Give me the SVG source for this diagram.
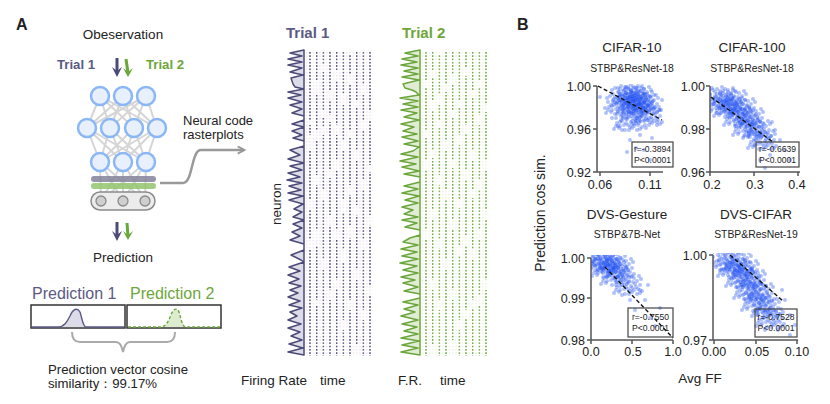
<svg xmlns="http://www.w3.org/2000/svg" width="830" height="404" viewBox="0 0 830 404">
<style>
text{font-family:"Liberation Sans",Arial,sans-serif;fill:#222}
.b{font-weight:bold}
.pu{fill:#5b5a84}
.gr{fill:#6ea63c}
.nn{fill:#e8f0fd;stroke:#8ab7f5;stroke-width:2.5}
.cn{stroke:#d5d5d5;stroke-width:2;fill:none}
.ax{stroke:#555;stroke-width:1.5;fill:none}
.reg{stroke:#111;stroke-width:1.4;stroke-dasharray:4 2.5;fill:none}
.sb{fill:none;stroke:#444;stroke-width:1.2}
.st{font-size:8.6px}
.tk{font-size:12.5px}
.ti{font-size:13.5px}
.sub{font-size:10.4px}
.pt{fill:#2552f2;fill-opacity:0.36}
</style>
<defs>
<marker id="ga" viewBox="0 0 10 10" refX="8" refY="5" markerWidth="9" markerHeight="9" markerUnits="userSpaceOnUse" orient="auto"><path d="M1,1 L8.5,5 L1,9" fill="none" stroke="#999" stroke-width="2.2"/></marker>
<pattern id="p1" patternUnits="userSpaceOnUse" x="309.25" y="52" width="6.667" height="3.3"><rect width="1.6" height="1.6" fill="#4b4a78"/></pattern>
<pattern id="p1f" patternUnits="userSpaceOnUse" x="309.25" y="52" width="3.333" height="3.3"><rect width="1.5" height="1.5" fill="#f1e7f2"/></pattern>
<pattern id="p2" patternUnits="userSpaceOnUse" x="425.25" y="52" width="6.667" height="3.3"><rect width="1.6" height="1.6" fill="#6aa63a"/></pattern>
<pattern id="p2f" patternUnits="userSpaceOnUse" x="425.25" y="52" width="3.333" height="3.3"><rect width="1.5" height="1.5" fill="#edf5e4"/></pattern>
<clipPath id="cp1"><rect x="597" y="84" width="72" height="88"/></clipPath>
<clipPath id="cp2"><rect x="710" y="84" width="92" height="88"/></clipPath>
<clipPath id="cp3"><rect x="591" y="255" width="85" height="85"/></clipPath>
<clipPath id="cp4"><rect x="713" y="253" width="88" height="87"/></clipPath>
<g id="cl" fill="#2552f2" fill-opacity="0.36">
<circle cx="-12" cy="-3" r="2"/><circle cx="-8" cy="5" r="2"/><circle cx="-5" cy="-8" r="2"/><circle cx="-2" cy="2" r="2"/><circle cx="1" cy="-4" r="2"/><circle cx="4" cy="7" r="2"/><circle cx="7" cy="-1" r="2"/><circle cx="10" cy="4" r="2"/><circle cx="13" cy="-6" r="2"/><circle cx="-14" cy="8" r="2"/>
<circle cx="-10" cy="-9" r="2"/><circle cx="-6" cy="0" r="2"/><circle cx="-3" cy="9" r="2"/><circle cx="0" cy="-10" r="2"/><circle cx="3" cy="1" r="2"/><circle cx="6" cy="-7" r="2"/><circle cx="9" cy="9" r="2"/><circle cx="12" cy="0" r="2"/><circle cx="14" cy="6" r="2"/><circle cx="-11" cy="2" r="2"/>
<circle cx="-7" cy="-5" r="2"/><circle cx="-4" cy="4" r="2"/><circle cx="-1" cy="-2" r="2"/><circle cx="2" cy="6" r="2"/><circle cx="5" cy="-3" r="2"/><circle cx="8" cy="2" r="2"/><circle cx="11" cy="-9" r="2"/><circle cx="-13" cy="-7" r="2"/><circle cx="-9" cy="7" r="2"/><circle cx="0" cy="4" r="2"/>
<circle cx="6" cy="5" r="2"/><circle cx="-5" cy="-3" r="2"/><circle cx="3" cy="-8" r="2"/><circle cx="9" cy="-4" r="2"/><circle cx="-2" cy="-6" r="2"/><circle cx="-8" cy="1" r="2"/><circle cx="4" cy="3" r="2"/><circle cx="12" cy="8" r="2"/><circle cx="-12" cy="5" r="2"/><circle cx="1" cy="9" r="2"/>
</g>
</defs>
<rect width="830" height="404" fill="#fff"/>

<!-- Panel A -->
<text x="16" y="30" class="b" font-size="16">A</text>
<g id="observation"><text x="123" y="39" font-size="13.5" text-anchor="middle">Obeservation</text></g>
<g id="trial-labels">
<text x="57" y="69" class="b pu" font-size="13.2">Trial 1</text>
<text x="146" y="69" class="b gr" font-size="13.2">Trial 2</text>
<path d="M117,58 L117,72" stroke="#4b4a78" stroke-width="3"/><polygon points="112,67 117,77 122,67 117,71" fill="#4b4a78"/>
<path d="M126,59 L128,73" stroke="#6aa63a" stroke-width="3"/><polygon points="123,68 128,77 133,68 128,72" fill="#6aa63a"/>
</g>

<g id="network">
<g class="cn">
<path d="M100,96 L87,128 M100,96 L110,128 M100,96 L134,128 M100,96 L157,128 M123,96 L87,128 M123,96 L110,128 M123,96 L134,128 M123,96 L157,128 M146,96 L87,128 M146,96 L110,128 M146,96 L134,128 M146,96 L157,128"/>
<path d="M87,128 L100,162 M87,128 L123,162 M87,128 L146,162 M110,128 L100,162 M110,128 L123,162 M110,128 L146,162 M134,128 L100,162 M134,128 L123,162 M134,128 L146,162 M157,128 L100,162 M157,128 L123,162 M157,128 L146,162"/>
<path d="M100,162 L101,201 M100,162 L123,201 M100,162 L145,201 M123,162 L101,201 M123,162 L123,201 M123,162 L145,201 M146,162 L101,201 M146,162 L123,201 M146,162 L145,201"/>
</g>
<circle class="nn" cx="100" cy="96" r="9"/><circle class="nn" cx="123" cy="96" r="9"/><circle class="nn" cx="146" cy="96" r="9"/>
<circle class="nn" cx="87" cy="128" r="9"/><circle class="nn" cx="110" cy="128" r="9"/><circle class="nn" cx="134" cy="128" r="9"/><circle class="nn" cx="157" cy="128" r="9"/>
<circle class="nn" cx="100" cy="162" r="9"/><circle class="nn" cx="123" cy="162" r="9"/><circle class="nn" cx="146" cy="162" r="9"/>
<rect x="91" y="176" width="65" height="6" rx="3" fill="#85839b" fill-opacity="0.85"/>
<rect x="91" y="183" width="65" height="6" rx="3" fill="#93c46d" fill-opacity="0.85"/>
<rect x="91" y="192" width="64" height="18" rx="9" fill="#ececec" stroke="#8a8a8a" stroke-width="1.5"/>
<circle cx="101" cy="201" r="5" fill="#cfcfcf" stroke="#8a8a8a" stroke-width="1.3"/>
<circle cx="123" cy="201" r="5" fill="#cfcfcf" stroke="#8a8a8a" stroke-width="1.3"/>
<circle cx="145" cy="201" r="5" fill="#cfcfcf" stroke="#8a8a8a" stroke-width="1.3"/>
</g>

<g id="neural-code-label">
<text x="183" y="125" font-size="13">Neural code</text>
<text x="183" y="139" font-size="13">rasterplots</text>
</g>

<g id="connectors">
<path d="M160,183 H183 C193,183 191,150 201,150 H244" fill="none" stroke="#999" stroke-width="2.5" marker-end="url(#ga)"/>
<path d="M117,222 L117,236" stroke="#4b4a78" stroke-width="3"/><polygon points="112,231 117,241 122,231 117,235" fill="#4b4a78"/>
<path d="M127,223 L128,236" stroke="#6aa63a" stroke-width="3"/><polygon points="123,231 128,240 133,231 128,235" fill="#6aa63a"/>
<path d="M72,332 Q72,342 80,342 H116 Q121,342 123,352 Q125,342 130,342 H167 Q175,342 175,332" fill="none" stroke="#aaa" stroke-width="2"/>
</g>

<g id="prediction"><text x="123" y="262" font-size="13.5" text-anchor="middle">Prediction</text></g>

<g id="prediction-1">
<text x="32" y="299" class="pu" font-size="16">Prediction 1</text>
<rect x="31" y="305" width="94" height="23" fill="#fff" stroke="#333" stroke-width="1.5"/>
<path d="M58,327 C64,327 67,322 70,316 C73,309 77,307 80,312 C82,318 83,327 86,327 Z" fill="#dcdce8"/>
<path d="M32,327 L58,327 C64,327 67,322 70,316 C73,309 77,307 80,312 C82,318 83,327 86,327 L124,327" fill="none" stroke="#5b5a84" stroke-width="1.4"/>
</g>
<g id="prediction-2">
<text x="130" y="299" class="gr" font-size="16">Prediction 2</text>
<rect x="127" y="305" width="94" height="23" fill="#fff" stroke="#333" stroke-width="1.5"/>
<path d="M160,327 C166,327 168,322 171,315 C173,309 177,307 179,312 C181,318 182,327 186,327 Z" fill="#dcecce"/>
<path d="M128,327 L160,327 C166,327 168,322 171,315 C173,309 177,307 179,312 C181,318 182,327 186,327 L220,327" fill="none" stroke="#6aa63a" stroke-width="1.4" stroke-dasharray="3 2"/>
</g>
<g id="similarity">
<text x="48" y="374" font-size="13.2">Prediction vector cosine</text>
<text x="48" y="388" font-size="13.2">similarity：99.17%</text>
</g>

<!-- Rasters -->
<g id="raster-trial-1">
<text x="286" y="38" class="b pu" font-size="15">Trial 1</text>
<rect x="306" y="52" width="67" height="304" fill="url(#p1f)"/>
<polygon points="304,50 290,53 302,56 288,59 302,62 288,65 302,68 290,72 303,75 291,78 293,84 295,87 304,89 288,92 301,95 288,98 302,102 290,105 302,109 292,113 304,116 304,120 292,124 304,127 292,131 302,135 293,138 304,141 304,146 290,150 300,155 288,159 304,163 290,166 302,170 288,173 300,177 287,180 302,183 289,186 301,190 288,193 303,196 289,200 303,204 294,209 302,212 293,217 304,220 293,224 302,228 292,232 300,236 290,240 304,244 304,250 291,255 301,260 304,262 289,267 300,271 288,275 299,279 289,283 301,286 290,290 298,293 288,297 300,301 289,305 302,308 290,312 297,316 288,320 301,324 288,328 300,332 291,336 302,340 289,344 303,348 288,352 304,355" fill="#dcdce8" stroke="#4b4a78" stroke-width="1.5" stroke-linejoin="round"/>
<g fill="url(#p1)">
<path d="M309,52h2V120h-2z M309,125h2V135h-2z M309,150h2V200h-2z M309,210h2V240h-2z M309,250h2V356h-2z"/>
<path d="M315.7,52h2V80h-2z M315.7,95h2V130h-2z M315.7,140h2V175h-2z M315.7,185h2V230h-2z M315.7,245h2V300h-2z M315.7,305h2V356h-2z"/>
<path d="M322.3,52h2V65h-2z M322.3,72h2V110h-2z M322.3,118h2V128h-2z M322.3,135h2V190h-2z M322.3,200h2V260h-2z M322.3,270h2V356h-2z"/>
<path d="M329,52h2V90h-2z M329,100h2V115h-2z M329,122h2V170h-2z M329,178h2V215h-2z M329,225h2V290h-2z M329,300h2V356h-2z"/>
<path d="M335.7,52h2V70h-2z M335.7,80h2V125h-2z M335.7,135h2V160h-2z M335.7,170h2V230h-2z M335.7,240h2V280h-2z M335.7,288h2V356h-2z"/>
<path d="M342.3,52h2V95h-2z M342.3,105h2V140h-2z M342.3,150h2V200h-2z M342.3,212h2V250h-2z M342.3,262h2V320h-2z M342.3,330h2V356h-2z"/>
<path d="M349,55h2V75h-2z M349,85h2V130h-2z M349,138h2V185h-2z M349,195h2V225h-2z M349,238h2V300h-2z M349,310h2V356h-2z"/>
<path d="M355.7,52h2V100h-2z M355.7,108h2V150h-2z M355.7,160h2V205h-2z M355.7,215h2V270h-2z M355.7,280h2V345h-2z"/>
<path d="M362.3,52h2V85h-2z M362.3,95h2V120h-2z M362.3,130h2V180h-2z M362.3,190h2V240h-2z M362.3,250h2V310h-2z M362.3,320h2V356h-2z"/>
<path d="M369,52h2V110h-2z M369,120h2V165h-2z M369,172h2V215h-2z M369,225h2V285h-2z M369,295h2V356h-2z"/>
</g>
<text transform="translate(281,204) rotate(-90)" font-size="13.5" text-anchor="middle">neuron</text>
<text x="241" y="385" font-size="13.5">Firing Rate</text>
<text x="320" y="385" font-size="13.5">time</text>
</g>

<g id="raster-trial-2">
<text x="402" y="38" class="b gr" font-size="15">Trial 2</text>
<rect x="422" y="52" width="67" height="304" fill="url(#p2f)"/>
<polygon points="420,50 405,53 418,56 402,59 417,62 401,65 418,68 404,71 418,74 402,77 419,80 403,84 405,88 412,90 416,92 419,95 400,98 418,101 403,104 418,107 401,110 417,113 404,117 419,120 401,124 414,127 403,131 417,134 402,137 418,141 404,144 419,147 413,151 401,154 418,157 400,161 416,164 402,167 419,171 404,174 420,177 420,182 404,186 418,189 402,193 419,196 405,200 418,203 402,207 413,210 404,214 418,217 402,220 417,223 405,227 420,230 420,235 410,238 403,242 418,245 401,249 417,252 402,256 418,259 400,263 417,266 403,270 418,273 401,277 415,280 403,283 418,287 404,291 420,294 420,298 403,302 418,305 404,309 415,312 401,316 418,320 402,324 417,327 404,331 418,334 401,338 419,341 402,345 418,348 401,352 420,355" fill="#e1ecd5" stroke="#6aa63a" stroke-width="1.5" stroke-linejoin="round"/>
<g fill="url(#p2)">
<path d="M425,52h2V80h-2z M425,88h2V130h-2z M425,138h2V160h-2z M425,170h2V230h-2z M425,240h2V356h-2z"/>
<path d="M431.7,52h2V70h-2z M431.7,78h2V100h-2z M431.7,110h2V150h-2z M431.7,158h2V210h-2z M431.7,220h2V280h-2z M431.7,290h2V345h-2z"/>
<path d="M438.3,55h2V95h-2z M438.3,105h2V120h-2z M438.3,128h2V175h-2z M438.3,185h2V240h-2z M438.3,248h2V300h-2z M438.3,310h2V356h-2z"/>
<path d="M445,52h2V85h-2z M445,92h2V140h-2z M445,150h2V190h-2z M445,200h2V260h-2z M445,270h2V356h-2z"/>
<path d="M451.7,52h2V75h-2z M451.7,85h2V110h-2z M451.7,118h2V160h-2z M451.7,168h2V220h-2z M451.7,230h2V290h-2z M451.7,300h2V340h-2z"/>
<path d="M458.3,52h2V100h-2z M458.3,108h2V135h-2z M458.3,145h2V200h-2z M458.3,208h2V245h-2z M458.3,255h2V320h-2z M458.3,330h2V356h-2z"/>
<path d="M465,52h2V68h-2z M465,76h2V125h-2z M465,133h2V170h-2z M465,180h2V235h-2z M465,245h2V310h-2z M465,318h2V356h-2z"/>
<path d="M471.7,52h2V90h-2z M471.7,98h2V150h-2z M471.7,160h2V190h-2z M471.7,198h2V250h-2z M471.7,260h2V300h-2z M471.7,308h2V356h-2z"/>
<path d="M478.3,52h2V80h-2z M478.3,88h2V115h-2z M478.3,125h2V180h-2z M478.3,190h2V230h-2z M478.3,240h2V295h-2z M478.3,305h2V356h-2z"/>
<path d="M485,52h2V105h-2z M485,112h2V160h-2z M485,170h2V210h-2z M485,220h2V280h-2z M485,290h2V356h-2z"/>
</g>
<text x="398" y="385" font-size="13.5">F.R.</text>
<text x="440" y="385" font-size="13.5">time</text>
</g>

<!-- Panel B -->
<text x="517" y="30" class="b" font-size="16">B</text>
<text transform="translate(545,213) rotate(-90)" font-size="14" text-anchor="middle">Prediction cos sim.</text>
<text x="700" y="383" font-size="13.5" text-anchor="middle">Avg FF</text>

<g id="plot-cifar10">
<text x="632" y="52" class="ti" text-anchor="middle">CIFAR-10</text>
<text x="632" y="72" class="sub" text-anchor="middle">STBP&amp;ResNet-18</text>
<g class="pt" clip-path="url(#cp1)">
<use href="#cl" x="625" y="97"/><use href="#cl" x="638" y="96"/><use href="#cl" x="632" y="103"/><use href="#cl" x="645" y="104"/><use href="#cl" x="620" y="105"/><use href="#cl" x="635" y="112"/><use href="#cl" x="648" y="116"/><use href="#cl" x="628" y="121"/><use href="#cl" x="631" y="95"/><use href="#cl" x="641" y="101"/>
<circle cx="600" cy="97" r="2"/><circle cx="605" cy="108" r="2"/><circle cx="612" cy="118" r="2"/><circle cx="622" cy="130" r="2"/><circle cx="630" cy="140" r="2"/><circle cx="640" cy="135" r="2"/><circle cx="646" cy="128" r="2"/><circle cx="652" cy="138" r="2"/><circle cx="657" cy="122" r="2"/><circle cx="660" cy="110" r="2"/><circle cx="636" cy="148" r="2"/><circle cx="627" cy="152" r="2"/><circle cx="618" cy="126" r="2"/><circle cx="644" cy="150" r="2"/><circle cx="650" cy="160" r="2"/><circle cx="662" cy="100" r="2"/>
</g>
<path class="ax" d="M597,86 V172 H663 M593,86 H597 M593,129 H597 M593,172 H597 M600,172 V176 M650,172 V176"/>
<text x="591" y="91" class="tk" text-anchor="end">1.00</text>
<text x="591" y="134" class="tk" text-anchor="end">0.96</text>
<text x="591" y="177" class="tk" text-anchor="end">0.92</text>
<text x="600" y="189" class="tk" text-anchor="middle">0.06</text>
<text x="650" y="189" class="tk" text-anchor="middle">0.11</text>
<path class="reg" d="M598,86 L662,120"/>
<rect class="sb" x="632" y="142" width="41" height="25"/>
<text x="652.5" y="152" class="st" text-anchor="middle">r=-0.3894</text>
<text x="652.5" y="163" class="st" text-anchor="middle">P&lt;0.0001</text>
</g>

<g id="plot-cifar100">
<text x="752" y="52" class="ti" text-anchor="middle">CIFAR-100</text>
<text x="752" y="72" class="sub" text-anchor="middle">STBP&amp;ResNet-18</text>
<g class="pt" clip-path="url(#cp2)">
<use href="#cl" x="722" y="97"/><use href="#cl" x="733" y="100"/><use href="#cl" x="728" y="108"/><use href="#cl" x="742" y="108"/><use href="#cl" x="738" y="117"/><use href="#cl" x="750" y="118"/><use href="#cl" x="747" y="127"/><use href="#cl" x="757" y="130"/><use href="#cl" x="762" y="140"/><use href="#cl" x="720" y="104"/>
<circle cx="713" cy="90" r="2"/><circle cx="775" cy="130" r="2"/><circle cx="780" cy="140" r="2"/><circle cx="770" cy="155" r="2"/><circle cx="760" cy="160" r="2"/><circle cx="785" cy="150" r="2"/><circle cx="765" cy="168" r="2"/><circle cx="755" cy="145" r="2"/><circle cx="790" cy="160" r="2"/><circle cx="772" cy="122" r="2"/>
</g>
<path class="ax" d="M710,86 V172 H800 M706,86 H710 M706,129 H710 M706,172 H710 M710,172 V176 M754,172 V176 M798,172 V176"/>
<text x="705" y="91" class="tk" text-anchor="end">1.00</text>
<text x="705" y="134" class="tk" text-anchor="end">0.98</text>
<text x="705" y="177" class="tk" text-anchor="end">0.96</text>
<text x="712" y="189" class="tk" text-anchor="middle">0.2</text>
<text x="755" y="189" class="tk" text-anchor="middle">0.3</text>
<text x="797" y="189" class="tk" text-anchor="middle">0.4</text>
<path class="reg" d="M711,97 L773,142"/>
<rect class="sb" x="756" y="142" width="43" height="25"/>
<text x="777.5" y="152" class="st" text-anchor="middle">r=-0.6639</text>
<text x="777.5" y="163" class="st" text-anchor="middle">P&lt;0.0001</text>
</g>

<g id="plot-dvs-gesture">
<text x="627" y="219" class="ti" text-anchor="middle">DVS-Gesture</text>
<text x="627" y="238" class="sub" text-anchor="middle">STBP&amp;7B-Net</text>
<g class="pt" clip-path="url(#cp3)">
<use href="#cl" x="600" y="262"/><use href="#cl" x="612" y="262"/><use href="#cl" x="606" y="268"/><use href="#cl" x="620" y="268"/><use href="#cl" x="615" y="276"/><use href="#cl" x="628" y="285"/><use href="#cl" x="604" y="259"/>
<circle cx="595" cy="258" r="2"/><circle cx="640" cy="290" r="2"/><circle cx="645" cy="300" r="2"/><circle cx="635" cy="310" r="2"/><circle cx="650" cy="318" r="2"/><circle cx="655" cy="326" r="2"/><circle cx="630" cy="300" r="2"/><circle cx="622" cy="295" r="2"/><circle cx="648" cy="285" r="2"/><circle cx="660" cy="308" r="2"/>
</g>
<path class="ax" d="M591,258 V340 H673 M587,258 H591 M587,298 H591 M587,340 H591 M591,340 V344 M632,340 V344 M673,340 V344"/>
<text x="585" y="263" class="tk" text-anchor="end">1.00</text>
<text x="585" y="303" class="tk" text-anchor="end">0.99</text>
<text x="585" y="345" class="tk" text-anchor="end">0.98</text>
<text x="591" y="356" class="tk" text-anchor="middle">0.0</text>
<text x="633" y="356" class="tk" text-anchor="middle">0.5</text>
<text x="673" y="356" class="tk" text-anchor="middle">1.0</text>
<path class="reg" d="M605,267 L673,338"/>
<rect class="sb" x="628" y="308" width="45" height="29"/>
<text x="650.5" y="320" class="st" text-anchor="middle">r=-0.7550</text>
<text x="650.5" y="331" class="st" text-anchor="middle">P&lt;0.0001</text>
</g>

<g id="plot-dvs-cifar">
<text x="756" y="219" class="ti" text-anchor="middle">DVS-CIFAR</text>
<text x="756" y="238" class="sub" text-anchor="middle">STBP&amp;ResNet-19</text>
<g class="pt" clip-path="url(#cp4)">
<use href="#cl" x="725" y="260"/><use href="#cl" x="738" y="262"/><use href="#cl" x="732" y="268"/><use href="#cl" x="745" y="270"/><use href="#cl" x="740" y="278"/><use href="#cl" x="752" y="280"/><use href="#cl" x="748" y="290"/><use href="#cl" x="760" y="293"/><use href="#cl" x="756" y="302"/><use href="#cl" x="766" y="308"/><use href="#cl" x="770" y="318"/>
<circle cx="785" cy="300" r="2"/><circle cx="790" cy="315" r="2"/><circle cx="778" cy="330" r="2"/><circle cx="765" cy="330" r="2"/><circle cx="790" cy="335" r="2"/><circle cx="720" cy="270" r="2"/><circle cx="795" cy="325" r="2"/><circle cx="782" cy="290" r="2"/>
</g>
<path class="ax" d="M713,255 V340 H798 M709,255 H713 M709,340 H713 M714,340 V344 M756,340 V344 M797,340 V344"/>
<text x="707" y="260" class="tk" text-anchor="end">1.00</text>
<text x="707" y="345" class="tk" text-anchor="end">0.97</text>
<text x="714" y="356" class="tk" text-anchor="middle">0.00</text>
<text x="757" y="356" class="tk" text-anchor="middle">0.05</text>
<text x="797" y="356" class="tk" text-anchor="middle">0.10</text>
<path class="reg" d="M730,255 L783,301"/>
<rect class="sb" x="755" y="309" width="42" height="28"/>
<text x="776" y="320" class="st" text-anchor="middle">r=-0.7528</text>
<text x="776" y="331" class="st" text-anchor="middle">P&lt;0.0001</text>
</g>
</svg>
